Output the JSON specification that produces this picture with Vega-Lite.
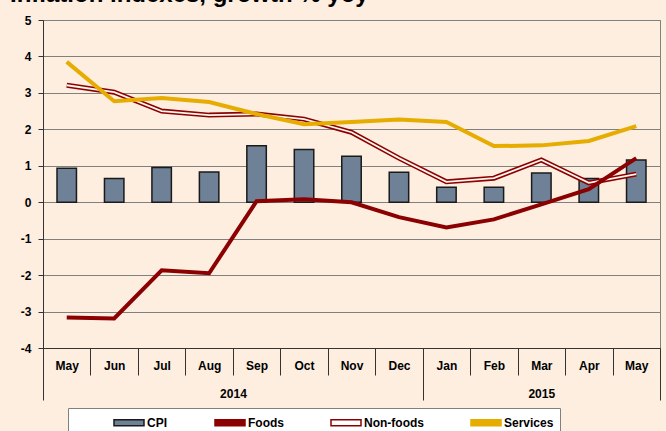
{
  "$schema": "https://vega.github.io/schema/vega-lite/v6.json",
  "width": 617,
  "height": 328,
  "autosize": {"type": "none"},
  "padding": {"left": 43, "top": 20, "right": 6, "bottom": 83},
  "background": "#FDEEE0",
  "title": {
    "text": "Inflation indexes, growth % yoy",
    "anchor": "start",
    "frame": "group",
    "dx": -33,
    "offset": 7,
    "fontSize": 24,
    "font": "Liberation Sans",
    "fontWeight": "bold",
    "color": "#000000"
  },
  "config": {
    "view": {"stroke": "#808080", "strokeWidth": 1},
    "font": "Liberation Sans",
    "legend": {
      "orient": "none",
      "legendX": 25,
      "legendY": 388,
      "direction": "horizontal",
      "columns": 4,
      "title": null,
      "padding": 6,
      "fillColor": "#FFFFFF",
      "strokeColor": "#808080",
      "symbolType": "M-2,-0.4H2V0.4H-2Z",
      "symbolSize": 225,
      "symbolStrokeWidth": 1.5,
      "symbolOffset": 46.5,
      "columnPadding": 7,
      "labelOffset": 9.5,
      "labelFont": "Liberation Sans",
      "labelFontSize": 12,
      "labelFontWeight": "bold",
      "labelColor": "#000000"
    },
    "axisY": {
      "title": null,
      "labelFont": "Liberation Sans",
      "labelFontSize": 12,
      "labelFontWeight": "bold",
      "labelColor": "#000000",
      "labelPadding": 7,
      "labelOverlap": false,
      "tickSize": 5,
      "tickColor": "#333333",
      "domainColor": "#333333",
      "grid": true,
      "gridColor": "#808080",
      "gridWidth": 1
    }
  },
  "data": {
    "values": [
      {"m": "May|2014", "series": "CPI", "value": 0.93},
      {"m": "Jun|2014", "series": "CPI", "value": 0.65},
      {"m": "Jul|2014", "series": "CPI", "value": 0.95},
      {"m": "Aug|2014", "series": "CPI", "value": 0.83},
      {"m": "Sep|2014", "series": "CPI", "value": 1.55},
      {"m": "Oct|2014", "series": "CPI", "value": 1.45},
      {"m": "Nov|2014", "series": "CPI", "value": 1.26},
      {"m": "Dec|2014", "series": "CPI", "value": 0.82},
      {"m": "Jan|2015", "series": "CPI", "value": 0.41},
      {"m": "Feb|2015", "series": "CPI", "value": 0.41},
      {"m": "Mar|2015", "series": "CPI", "value": 0.8},
      {"m": "Apr|2015", "series": "CPI", "value": 0.65},
      {"m": "May|2015", "series": "CPI", "value": 1.16},
      {"m": "May|2014", "series": "Foods", "value": -3.16},
      {"m": "Jun|2014", "series": "Foods", "value": -3.19},
      {"m": "Jul|2014", "series": "Foods", "value": -1.87},
      {"m": "Aug|2014", "series": "Foods", "value": -1.95},
      {"m": "Sep|2014", "series": "Foods", "value": 0.03},
      {"m": "Oct|2014", "series": "Foods", "value": 0.08},
      {"m": "Nov|2014", "series": "Foods", "value": 0.0},
      {"m": "Dec|2014", "series": "Foods", "value": -0.41},
      {"m": "Jan|2015", "series": "Foods", "value": -0.69},
      {"m": "Feb|2015", "series": "Foods", "value": -0.47},
      {"m": "Mar|2015", "series": "Foods", "value": -0.06},
      {"m": "Apr|2015", "series": "Foods", "value": 0.36},
      {"m": "May|2015", "series": "Foods", "value": 1.21},
      {"m": "May|2014", "series": "Non-foods", "value": 3.21},
      {"m": "Jun|2014", "series": "Non-foods", "value": 3.02},
      {"m": "Jul|2014", "series": "Non-foods", "value": 2.5},
      {"m": "Aug|2014", "series": "Non-foods", "value": 2.39},
      {"m": "Sep|2014", "series": "Non-foods", "value": 2.42},
      {"m": "Oct|2014", "series": "Non-foods", "value": 2.28},
      {"m": "Nov|2014", "series": "Non-foods", "value": 1.92},
      {"m": "Dec|2014", "series": "Non-foods", "value": 1.21},
      {"m": "Jan|2015", "series": "Non-foods", "value": 0.56},
      {"m": "Feb|2015", "series": "Non-foods", "value": 0.66},
      {"m": "Mar|2015", "series": "Non-foods", "value": 1.16},
      {"m": "Apr|2015", "series": "Non-foods", "value": 0.53},
      {"m": "May|2015", "series": "Non-foods", "value": 0.77},
      {"m": "May|2014", "series": "Services", "value": 3.85},
      {"m": "Jun|2014", "series": "Services", "value": 2.77},
      {"m": "Jul|2014", "series": "Services", "value": 2.86},
      {"m": "Aug|2014", "series": "Services", "value": 2.75},
      {"m": "Sep|2014", "series": "Services", "value": 2.42},
      {"m": "Oct|2014", "series": "Services", "value": 2.14},
      {"m": "Nov|2014", "series": "Services", "value": 2.2},
      {"m": "Dec|2014", "series": "Services", "value": 2.27},
      {"m": "Jan|2015", "series": "Services", "value": 2.2},
      {"m": "Feb|2015", "series": "Services", "value": 1.54},
      {"m": "Mar|2015", "series": "Services", "value": 1.56},
      {"m": "Apr|2015", "series": "Services", "value": 1.68},
      {"m": "May|2015", "series": "Services", "value": 2.09}
    ]
  },
  "resolve": {"axis": {"x": "independent"}},
  "layer": [
    {
      "transform": [{"filter": "datum.series === 'CPI'"}],
      "mark": {"type": "bar", "width": {"band": 0.41}},
      "encoding": {
        "x": {
          "field": "m", "type": "nominal",
          "scale": {"domain": ["May|2014","Jun|2014","Jul|2014","Aug|2014","Sep|2014","Oct|2014","Nov|2014","Dec|2014","Jan|2015","Feb|2015","Mar|2015","Apr|2015","May|2015"], "paddingInner": 0, "paddingOuter": 0},
          "axis": {
            "orient": "bottom",
            "title": null,
            "labelExpr": "datum.value ? split(datum.value, '|')[0] : ''",
            "labelAngle": 0,
            "labelFont": "Liberation Sans",
            "labelFontSize": 12,
            "labelFontWeight": "bold",
            "labelColor": "#000000",
            "labelPadding": -15,
            "labelOverlap": false,
            "tickBand": "extent",
            "tickSize": 27,
            "tickColor": "#333333",
            "tickWidth": 1,
            "domainColor": "#333333",
            "domainWidth": 1,
            "grid": false
          }
        },
        "y": {
          "field": "value", "type": "quantitative",
          "scale": {"domain": [-4, 5], "nice": false},
          "axis": {"values": [-4,-3,-2,-1,0,1,2,3,4,5], "labelExpr": "replace(datum.label, '\u2212', '-')"}
        },
        "fill": {
          "field": "series", "type": "nominal",
          "scale": {"domain": ["CPI","Foods","Non-foods","Services"], "range": ["#6E8196","#8B0000","#FFFFFF","#E6AC00"]},
          "legend": {}
        }
      }
    },
    {
      "transform": [{"filter": "datum.series === 'CPI'"}],
      "mark": {"type": "bar", "width": {"band": 0.41}, "fillOpacity": 0, "stroke": "#1A1A1A", "strokeWidth": 1.5},
      "encoding": {
        "x": {"field": "m", "type": "nominal", "axis": null},
        "y": {"field": "value", "type": "quantitative", "axis": {"values": [-4,-3,-2,-1,0,1,2,3,4,5], "labelExpr": "replace(datum.label, '\u2212', '-')"}}
      }
    },
    {
      "transform": [{"filter": "datum.series === 'Non-foods'"}],
      "mark": {"type": "line", "strokeWidth": 5},
      "encoding": {
        "x": {"field": "m", "type": "nominal", "axis": null},
        "y": {"field": "value", "type": "quantitative", "axis": {"values": [-4,-3,-2,-1,0,1,2,3,4,5], "labelExpr": "replace(datum.label, '\u2212', '-')"}},
        "stroke": {
          "field": "series", "type": "nominal",
          "scale": {"domain": ["CPI","Foods","Non-foods","Services"], "range": ["#1A1A1A","#8B0000","#8B0000","#E6AC00"]},
          "legend": {}
        }
      }
    },
    {
      "transform": [{"filter": "datum.series === 'Non-foods'"}],
      "mark": {"type": "line", "strokeWidth": 1.8, "stroke": "#FFF6EE"},
      "encoding": {
        "x": {"field": "m", "type": "nominal", "axis": null},
        "y": {"field": "value", "type": "quantitative", "axis": {"values": [-4,-3,-2,-1,0,1,2,3,4,5], "labelExpr": "replace(datum.label, '\u2212', '-')"}}
      }
    },
    {
      "transform": [{"filter": "datum.series === 'Foods' || datum.series === 'Services'"}],
      "mark": {"type": "line", "strokeWidth": 4},
      "encoding": {
        "x": {
          "field": "m", "type": "nominal",
          "axis": {
            "orient": "bottom",
            "title": null,
            "values": ["May|2014", "Dec|2014", "May|2015"],
            "labelExpr": "datum.value === 'Dec|2014' ? '2014' : datum.value === 'May|2015' ? '2015' : ''",
            "labelAngle": 0,
            "labelFont": "Liberation Sans",
            "labelFontSize": 12,
            "labelFontWeight": "bold",
            "labelColor": "#000000",
            "labelPadding": -12,
            "labelOverlap": false,
            "labelOffset": {"condition": {"test": "datum.value === 'Dec|2014'", "value": -166}, "value": -95},
            "tickBand": "extent",
            "tickSize": 52,
            "tickColor": "#333333",
            "tickOpacity": {"condition": {"test": "datum.value === 'May|2014'", "value": 0}, "value": 1},
            "domain": false,
            "grid": false
          }
        },
        "y": {"field": "value", "type": "quantitative", "axis": {"values": [-4,-3,-2,-1,0,1,2,3,4,5], "labelExpr": "replace(datum.label, '\u2212', '-')"}},
        "stroke": {"field": "series", "type": "nominal", "legend": {}},
        "detail": {"field": "series"}
      }
    }
  ]
}
